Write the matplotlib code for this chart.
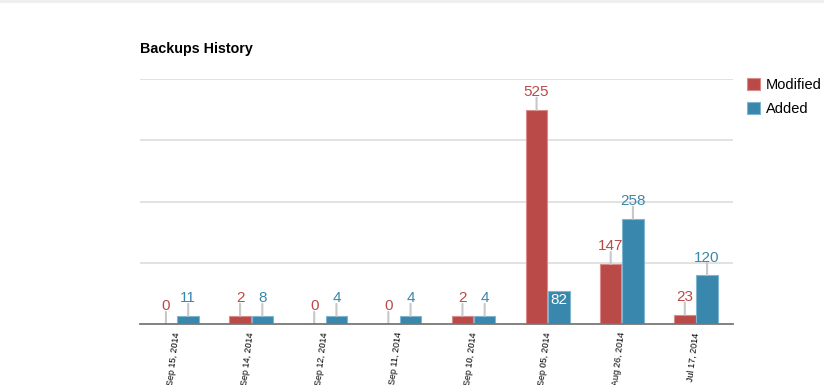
import numpy as np
import matplotlib
matplotlib.use('Agg')
import matplotlib.pyplot as plt

plt.rcParams['font.family'] = ['Liberation Sans', 'DejaVu Sans']

dates = ['Sep 15, 2014', 'Sep 14, 2014', 'Sep 12, 2014', 'Sep 11, 2014',
         'Sep 10, 2014', 'Sep 05, 2014', 'Aug 26, 2014', 'Jul 17, 2014']
modified = [0, 2, 0, 0, 2, 525, 147, 23]
added = [11, 8, 4, 4, 4, 82, 258, 120]

red = '#b94a48'
blue = '#3a87ad'
W, H = 824, 385
px = 72.0 / 100  # points per pixel

fig = plt.figure(figsize=(W / 100, H / 100), dpi=100)
ax = fig.add_axes([140 / W, 61 / H, 593 / W, 245 / H])

x = np.arange(len(dates))
bw = 0.3
min_h = 20  # tiny bars still get a visible height


def show(vals):
    return [max(v, min_h) if v > 0 else 0 for v in vals]


series = [(modified, added, red, '#d98c8a', -bw / 2, 'Modified'),
          (added, modified, blue, '#80b5cf', bw / 2, 'Added')]

for vals, other, col, edge, off, name in series:
    hs = show(vals)
    ax.bar(x + off, hs, width=bw - 0.01, color=col, edgecolor=edge,
           linewidth=0.8, label=name, zorder=3)
    for xi, v, h, o in zip(x + off, vals, hs, other):
        if v >= 50 and o > 4 * v:
            ax.annotate(str(v), xy=(xi, h), xytext=(0, -13 * px),
                        textcoords='offset points', ha='center', va='baseline',
                        color='white', fontsize=11, zorder=5)
            continue
        ax.annotate('', xy=(xi, h), xytext=(0, 12 * px), textcoords='offset points',
                    arrowprops=dict(arrowstyle='-', color='#c8c8c8', lw=1.5,
                                    shrinkA=0, shrinkB=0), zorder=4)
        ax.annotate(str(v), xy=(xi, h), xytext=(0, 13.5 * px),
                    textcoords='offset points', ha='center', va='baseline',
                    color=col, fontsize=11, zorder=5)

ax.set_xlim(-0.5, len(dates) - 0.5)
ax.set_ylim(0, 600)
ax.set_yticks([150, 300, 450, 600])
ax.yaxis.grid(True, color='#dddddd', linewidth=1.2, zorder=0)
ax.tick_params(axis='y', length=0, labelleft=False)
ax.set_xticks(x)
ax.set_xticklabels(dates, rotation=83, rotation_mode='anchor', ha='right',
                   va='center', fontsize=6.5)
ax.tick_params(axis='x', length=0, pad=6)
for s in ['top', 'left', 'right']:
    ax.spines[s].set_visible(False)
ax.spines['bottom'].set_color('#777777')
ax.spines['bottom'].set_linewidth(1.3)
ax.spines['bottom'].set_zorder(6)

fig.text(140 / W, 1 - 53 / H, 'Backups History', fontsize=10.3,
         fontweight='bold', va='baseline', ha='left')

fig.legend(loc='upper left', bbox_to_anchor=(747 / W, 1 - 78 / H),
           frameon=False, fontsize=10.5, handlelength=0.9, handleheight=0.9,
           handletextpad=0.4, labelspacing=0.68, borderpad=0, borderaxespad=0)

fig.add_artist(plt.Line2D([0, 1], [1 - 1 / H, 1 - 1 / H], color='#eeeeee',
                          lw=2, transform=fig.transFigure))

fig.savefig('out.png', dpi=100, facecolor='white')
